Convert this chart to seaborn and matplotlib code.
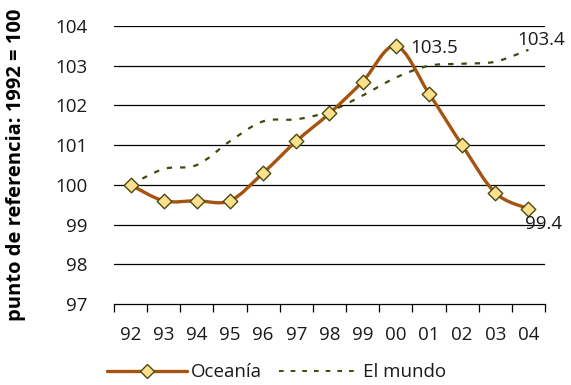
import numpy as np
import pandas as pd
import matplotlib
matplotlib.use("Agg")
import matplotlib.pyplot as plt
from matplotlib.path import Path
from matplotlib.patches import PathPatch
from matplotlib.lines import Line2D
import seaborn as sns

years = ["92", "93", "94", "95", "96", "97", "98", "99", "00", "01", "02", "03", "04"]
oceania = [100.0, 99.6, 99.6, 99.6, 100.3, 101.1, 101.8, 102.6, 103.5, 102.3, 101.0, 99.8, 99.4]
mundo = [100.0, 100.4, 100.5, 101.1, 101.6, 101.65, 101.85, 102.25, 102.7, 103.0, 103.05, 103.1, 103.4]
y_ticks = [97, 98, 99, 100, 101, 102, 103, 104]

BROWN = "#A5540F"
OLIVE = "#3E4A0B"
MARKER_FILL = "#FCE08E"
MARKER_EDGE = "#4A4A10"
TEXT = "#1a1a1a"
FS = 13.5

sns.set_theme(style="white")
plt.rcParams["font.family"] = ["Open Sans", "DejaVu Sans"]

df = pd.DataFrame({"pos": np.arange(len(years)), "Oceanía": oceania, "El mundo": mundo})


def smooth_path(xs, ys):
    """Cubic Bezier through the points (Catmull-Rom style, tension 1/6)."""
    pts = np.column_stack([xs, ys]).astype(float)
    n = len(pts)
    verts = [pts[0]]
    codes = [Path.MOVETO]
    for i in range(n - 1):
        p0 = pts[i - 1] if i > 0 else pts[i]
        p1 = pts[i]
        p2 = pts[i + 1]
        p3 = pts[i + 2] if i + 2 < n else pts[i + 1]
        c1 = p1 + (p2 - p0) / 6.0
        c2 = p2 - (p3 - p1) / 6.0
        verts += [c1, c2, p2]
        codes += [Path.CURVE4] * 3
    return Path(verts, codes)


fig = plt.figure(figsize=(5.71, 3.85), dpi=100)
ax = fig.add_axes([0.1996, 0.2104, 0.7549, 0.7221])

# horizontal grid lines
for yv in y_ticks[1:]:
    ax.axhline(yv, color="#000000", lw=0.9, zorder=1)

# smoothed series
ax.add_patch(PathPatch(smooth_path(df["pos"], df["Oceanía"]), fill=False,
                       edgecolor=BROWN, lw=2.4, capstyle="round", zorder=3))
ax.add_patch(PathPatch(smooth_path(df["pos"], df["El mundo"]), fill=False,
                       edgecolor=OLIVE, lw=1.6, linestyle=(0, (2.4, 3.6)), zorder=4))

sns.scatterplot(data=df, x="pos", y="Oceanía", marker="D", s=55, color=MARKER_FILL,
                edgecolor=MARKER_EDGE, linewidth=1.0, zorder=5, ax=ax, legend=False)

ax.set_xlim(-0.5, len(years) - 0.5)
ax.set_ylim(97, 104)
ax.set_yticks(y_ticks)
ax.set_yticklabels([str(v) for v in y_ticks])
ax.set_xticks(np.arange(-0.5, len(years), 1.0))
ax.set_xticklabels([""] * (len(years) + 1))
ax.set_xticks(np.arange(len(years)), minor=True)
ax.set_xticklabels(years, minor=True)
ax.tick_params(axis="x", which="major", direction="out", length=6, width=0.9,
               color="#000000", bottom=True)
ax.tick_params(axis="x", which="minor", length=0, pad=16, labelsize=FS,
               labelcolor=TEXT)
ax.tick_params(axis="y", length=0, pad=19, labelsize=FS, labelcolor=TEXT)

for side in ["top", "right", "left"]:
    ax.spines[side].set_visible(False)
ax.spines["bottom"].set_color("#000000")
ax.spines["bottom"].set_linewidth(0.9)

ax.set_xlabel("")
ax.set_ylabel("punto de referencia: 1992 = 100", fontsize=14.5, fontweight="bold",
              color="#000000", labelpad=21)

# value labels
ax.text(8 + 0.45, oceania[8] - 0.05, f"{oceania[8]:.1f}", fontsize=FS, color=TEXT,
        ha="left", va="center", zorder=6)
ax.text(12 - 0.35, mundo[12] + 0.25, f"{mundo[12]:.1f}", fontsize=FS, color=TEXT,
        ha="left", va="center", zorder=6)
ax.text(12 - 0.1, oceania[12] - 0.38, f"{oceania[12]:.1f}", fontsize=FS, color=TEXT,
        ha="left", va="center", zorder=6)

handles = [
    Line2D([], [], color=BROWN, lw=2.4, marker="D", markersize=7,
           markerfacecolor=MARKER_FILL, markeredgecolor=MARKER_EDGE, markeredgewidth=1.0),
    Line2D([], [], color=OLIVE, lw=1.4, linestyle=(0, (2.4, 3.6))),
]
fig.legend(handles, ["Oceanía", "El mundo"], loc="center left",
           bbox_to_anchor=(0.157, 0.033), ncol=2, frameon=False, fontsize=FS,
           handlelength=4.3, handletextpad=0.2, columnspacing=0.9, labelcolor=TEXT)

fig.savefig("out.png", dpi=100)
